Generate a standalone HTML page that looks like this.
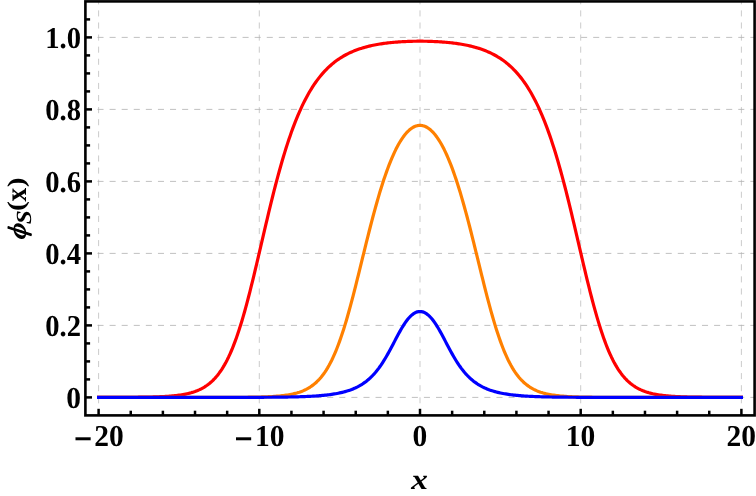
<!DOCTYPE html>
<html><head><meta charset="utf-8"><title>plot</title>
<style>
html,body{margin:0;padding:0;background:#fff;}
body{width:756px;height:496px;overflow:hidden;}
svg{display:block;will-change:transform;}
text{font-family:"Liberation Serif",serif;font-weight:bold;fill:#000;text-rendering:geometricPrecision;}
</style></head><body>
<svg width="756" height="496" viewBox="0 0 756 496">
<rect x="0" y="0" width="756" height="496" fill="#fff"/>
<defs><clipPath id="c"><rect x="85.4" y="1.4" width="669.2" height="414.0"/></clipPath></defs>
<g stroke="#bebebe" stroke-width="0.8" stroke-dasharray="6.045 6.045" fill="none">
<line x1="98.60" y1="415.4" x2="98.60" y2="1.4"/>
<line x1="259.30" y1="415.4" x2="259.30" y2="1.4"/>
<line x1="420.00" y1="415.4" x2="420.00" y2="1.4"/>
<line x1="580.70" y1="415.4" x2="580.70" y2="1.4"/>
<line x1="741.40" y1="415.4" x2="741.40" y2="1.4"/>
<line x1="85.4" y1="397.40" x2="754.6" y2="397.40" stroke="#b0b0b0"/>
<line x1="85.4" y1="325.40" x2="754.6" y2="325.40" stroke="#b0b0b0"/>
<line x1="85.4" y1="253.40" x2="754.6" y2="253.40" stroke="#b0b0b0"/>
<line x1="85.4" y1="181.40" x2="754.6" y2="181.40" stroke="#b0b0b0"/>
<line x1="85.4" y1="109.40" x2="754.6" y2="109.40" stroke="#b0b0b0"/>
<line x1="85.4" y1="37.40" x2="754.6" y2="37.40" stroke="#b0b0b0"/>
</g>
<g clip-path="url(#c)" fill="none" stroke-width="3.2" stroke-linejoin="round" stroke-linecap="square">
<path stroke="#ff0000" d="M98.60,397.38 L99.94,397.38 L101.28,397.38 L102.62,397.38 L103.96,397.38 L105.30,397.38 L106.63,397.38 L107.97,397.37 L109.31,397.37 L110.65,397.37 L111.99,397.37 L113.33,397.36 L114.67,397.36 L116.01,397.36 L117.35,397.35 L118.69,397.35 L120.03,397.34 L121.37,397.34 L122.70,397.33 L124.04,397.33 L125.38,397.32 L126.72,397.31 L128.06,397.31 L129.40,397.30 L130.74,397.29 L132.08,397.28 L133.42,397.27 L134.76,397.26 L136.10,397.24 L137.44,397.23 L138.77,397.22 L140.11,397.20 L141.45,397.18 L142.79,397.16 L144.13,397.14 L145.47,397.12 L146.81,397.10 L148.15,397.07 L149.49,397.04 L150.83,397.01 L152.17,396.98 L153.51,396.94 L154.84,396.90 L156.18,396.86 L157.52,396.81 L158.86,396.76 L160.20,396.71 L161.54,396.65 L162.88,396.58 L164.22,396.51 L165.56,396.43 L166.90,396.35 L168.24,396.26 L169.58,396.16 L170.91,396.06 L172.25,395.94 L173.59,395.81 L174.93,395.68 L176.27,395.53 L177.61,395.37 L178.95,395.19 L180.29,395.01 L181.63,394.80 L182.97,394.58 L184.31,394.34 L185.65,394.07 L186.98,393.79 L188.32,393.48 L189.66,393.15 L191.00,392.79 L192.34,392.39 L193.68,391.97 L195.02,391.51 L196.36,391.01 L197.70,390.48 L199.04,389.90 L200.38,389.27 L201.72,388.59 L203.06,387.86 L204.39,387.06 L205.73,386.21 L207.07,385.29 L208.41,384.30 L209.75,383.23 L211.09,382.08 L212.43,380.84 L213.77,379.51 L215.11,378.09 L216.45,376.56 L217.79,374.92 L219.12,373.16 L220.46,371.29 L221.80,369.29 L223.14,367.15 L224.48,364.88 L225.82,362.46 L227.16,359.90 L228.50,357.18 L229.84,354.30 L231.18,351.27 L232.52,348.06 L233.86,344.69 L235.19,341.15 L236.53,337.44 L237.87,333.56 L239.21,329.51 L240.55,325.29 L241.89,320.91 L243.23,316.38 L244.57,311.69 L245.91,306.85 L247.25,301.87 L248.59,296.77 L249.93,291.55 L251.26,286.21 L252.60,280.78 L253.94,275.27 L255.28,269.68 L256.62,264.03 L257.96,258.34 L259.30,252.61 L260.64,246.86 L261.98,241.11 L263.32,235.36 L264.66,229.63 L266.00,223.93 L267.34,218.27 L268.67,212.67 L270.01,207.12 L271.35,201.65 L272.69,196.26 L274.03,190.96 L275.37,185.75 L276.71,180.64 L278.05,175.64 L279.39,170.75 L280.73,165.97 L282.07,161.31 L283.40,156.77 L284.74,152.35 L286.08,148.05 L287.42,143.88 L288.76,139.82 L290.10,135.90 L291.44,132.09 L292.78,128.41 L294.12,124.85 L295.46,121.41 L296.80,118.08 L298.14,114.87 L299.48,111.78 L300.81,108.79 L302.15,105.91 L303.49,103.14 L304.83,100.47 L306.17,97.90 L307.51,95.43 L308.85,93.06 L310.19,90.77 L311.53,88.58 L312.87,86.47 L314.21,84.44 L315.55,82.50 L316.88,80.63 L318.22,78.84 L319.56,77.12 L320.90,75.47 L322.24,73.89 L323.58,72.38 L324.92,70.92 L326.26,69.53 L327.60,68.20 L328.94,66.92 L330.28,65.70 L331.62,64.52 L332.95,63.40 L334.29,62.33 L335.63,61.30 L336.97,60.31 L338.31,59.37 L339.65,58.47 L340.99,57.61 L342.33,56.78 L343.67,55.99 L345.01,55.24 L346.35,54.52 L347.69,53.83 L349.02,53.17 L350.36,52.54 L351.70,51.93 L353.04,51.36 L354.38,50.81 L355.72,50.28 L357.06,49.78 L358.40,49.30 L359.74,48.84 L361.08,48.40 L362.42,47.98 L363.75,47.59 L365.09,47.21 L366.43,46.84 L367.77,46.50 L369.11,46.17 L370.45,45.85 L371.79,45.55 L373.13,45.27 L374.47,45.00 L375.81,44.74 L377.15,44.49 L378.49,44.26 L379.82,44.04 L381.16,43.82 L382.50,43.62 L383.84,43.43 L385.18,43.25 L386.52,43.08 L387.86,42.92 L389.20,42.77 L390.54,42.63 L391.88,42.49 L393.22,42.36 L394.56,42.24 L395.89,42.13 L397.23,42.03 L398.57,41.93 L399.91,41.84 L401.25,41.75 L402.59,41.68 L403.93,41.61 L405.27,41.54 L406.61,41.48 L407.95,41.43 L409.29,41.38 L410.63,41.34 L411.96,41.30 L413.30,41.27 L414.64,41.25 L415.98,41.23 L417.32,41.22 L418.66,41.21 L420.00,41.21 L421.34,41.21 L422.68,41.22 L424.02,41.23 L425.36,41.25 L426.70,41.27 L428.04,41.30 L429.37,41.34 L430.71,41.38 L432.05,41.43 L433.39,41.48 L434.73,41.54 L436.07,41.61 L437.41,41.68 L438.75,41.75 L440.09,41.84 L441.43,41.93 L442.77,42.03 L444.11,42.13 L445.44,42.24 L446.78,42.36 L448.12,42.49 L449.46,42.63 L450.80,42.77 L452.14,42.92 L453.48,43.08 L454.82,43.25 L456.16,43.43 L457.50,43.62 L458.84,43.82 L460.18,44.04 L461.51,44.26 L462.85,44.49 L464.19,44.74 L465.53,45.00 L466.87,45.27 L468.21,45.55 L469.55,45.85 L470.89,46.17 L472.23,46.50 L473.57,46.84 L474.91,47.21 L476.25,47.59 L477.58,47.98 L478.92,48.40 L480.26,48.84 L481.60,49.30 L482.94,49.78 L484.28,50.28 L485.62,50.81 L486.96,51.36 L488.30,51.93 L489.64,52.54 L490.98,53.17 L492.31,53.83 L493.65,54.52 L494.99,55.24 L496.33,55.99 L497.67,56.78 L499.01,57.61 L500.35,58.47 L501.69,59.37 L503.03,60.31 L504.37,61.30 L505.71,62.33 L507.05,63.40 L508.38,64.52 L509.72,65.70 L511.06,66.92 L512.40,68.20 L513.74,69.53 L515.08,70.92 L516.42,72.38 L517.76,73.89 L519.10,75.47 L520.44,77.12 L521.78,78.84 L523.12,80.63 L524.46,82.50 L525.79,84.44 L527.13,86.47 L528.47,88.58 L529.81,90.77 L531.15,93.06 L532.49,95.43 L533.83,97.90 L535.17,100.47 L536.51,103.14 L537.85,105.91 L539.19,108.79 L540.52,111.78 L541.86,114.87 L543.20,118.08 L544.54,121.41 L545.88,124.85 L547.22,128.41 L548.56,132.09 L549.90,135.90 L551.24,139.82 L552.58,143.88 L553.92,148.05 L555.26,152.35 L556.60,156.77 L557.93,161.31 L559.27,165.97 L560.61,170.75 L561.95,175.64 L563.29,180.64 L564.63,185.75 L565.97,190.96 L567.31,196.26 L568.65,201.65 L569.99,207.12 L571.33,212.67 L572.66,218.27 L574.00,223.93 L575.34,229.63 L576.68,235.36 L578.02,241.11 L579.36,246.86 L580.70,252.61 L582.04,258.34 L583.38,264.03 L584.72,269.68 L586.06,275.27 L587.40,280.78 L588.74,286.21 L590.07,291.55 L591.41,296.77 L592.75,301.87 L594.09,306.85 L595.43,311.69 L596.77,316.38 L598.11,320.91 L599.45,325.29 L600.79,329.51 L602.13,333.56 L603.47,337.44 L604.81,341.15 L606.14,344.69 L607.48,348.06 L608.82,351.27 L610.16,354.30 L611.50,357.18 L612.84,359.90 L614.18,362.46 L615.52,364.88 L616.86,367.15 L618.20,369.29 L619.54,371.29 L620.88,373.16 L622.21,374.92 L623.55,376.56 L624.89,378.09 L626.23,379.51 L627.57,380.84 L628.91,382.08 L630.25,383.23 L631.59,384.30 L632.93,385.29 L634.27,386.21 L635.61,387.06 L636.94,387.86 L638.28,388.59 L639.62,389.27 L640.96,389.90 L642.30,390.48 L643.64,391.01 L644.98,391.51 L646.32,391.97 L647.66,392.39 L649.00,392.79 L650.34,393.15 L651.68,393.48 L653.01,393.79 L654.35,394.07 L655.69,394.34 L657.03,394.58 L658.37,394.80 L659.71,395.01 L661.05,395.19 L662.39,395.37 L663.73,395.53 L665.07,395.68 L666.41,395.81 L667.75,395.94 L669.09,396.06 L670.42,396.16 L671.76,396.26 L673.10,396.35 L674.44,396.43 L675.78,396.51 L677.12,396.58 L678.46,396.65 L679.80,396.71 L681.14,396.76 L682.48,396.81 L683.82,396.86 L685.15,396.90 L686.49,396.94 L687.83,396.98 L689.17,397.01 L690.51,397.04 L691.85,397.07 L693.19,397.10 L694.53,397.12 L695.87,397.14 L697.21,397.16 L698.55,397.18 L699.89,397.20 L701.23,397.22 L702.56,397.23 L703.90,397.24 L705.24,397.26 L706.58,397.27 L707.92,397.28 L709.26,397.29 L710.60,397.30 L711.94,397.31 L713.28,397.31 L714.62,397.32 L715.96,397.33 L717.30,397.33 L718.63,397.34 L719.97,397.34 L721.31,397.35 L722.65,397.35 L723.99,397.36 L725.33,397.36 L726.67,397.36 L728.01,397.37 L729.35,397.37 L730.69,397.37 L732.03,397.37 L733.37,397.38 L734.70,397.38 L736.04,397.38 L737.38,397.38 L738.72,397.38 L740.06,397.38 L741.40,397.38"/>
<path stroke="#ff8000" d="M98.60,397.40 L99.94,397.40 L101.28,397.40 L102.62,397.40 L103.96,397.40 L105.30,397.40 L106.63,397.40 L107.97,397.40 L109.31,397.40 L110.65,397.40 L111.99,397.40 L113.33,397.40 L114.67,397.40 L116.01,397.40 L117.35,397.40 L118.69,397.40 L120.03,397.40 L121.37,397.40 L122.70,397.40 L124.04,397.40 L125.38,397.40 L126.72,397.40 L128.06,397.40 L129.40,397.40 L130.74,397.40 L132.08,397.40 L133.42,397.40 L134.76,397.40 L136.10,397.40 L137.44,397.40 L138.77,397.40 L140.11,397.40 L141.45,397.40 L142.79,397.40 L144.13,397.40 L145.47,397.40 L146.81,397.40 L148.15,397.40 L149.49,397.40 L150.83,397.40 L152.17,397.40 L153.51,397.40 L154.84,397.40 L156.18,397.40 L157.52,397.40 L158.86,397.40 L160.20,397.40 L161.54,397.40 L162.88,397.40 L164.22,397.40 L165.56,397.40 L166.90,397.40 L168.24,397.40 L169.58,397.40 L170.91,397.40 L172.25,397.40 L173.59,397.40 L174.93,397.40 L176.27,397.40 L177.61,397.40 L178.95,397.40 L180.29,397.40 L181.63,397.40 L182.97,397.40 L184.31,397.40 L185.65,397.40 L186.98,397.40 L188.32,397.40 L189.66,397.40 L191.00,397.40 L192.34,397.40 L193.68,397.39 L195.02,397.39 L196.36,397.39 L197.70,397.39 L199.04,397.39 L200.38,397.39 L201.72,397.39 L203.06,397.39 L204.39,397.39 L205.73,397.39 L207.07,397.39 L208.41,397.39 L209.75,397.39 L211.09,397.38 L212.43,397.38 L213.77,397.38 L215.11,397.38 L216.45,397.38 L217.79,397.37 L219.12,397.37 L220.46,397.37 L221.80,397.37 L223.14,397.36 L224.48,397.36 L225.82,397.36 L227.16,397.35 L228.50,397.35 L229.84,397.34 L231.18,397.34 L232.52,397.33 L233.86,397.33 L235.19,397.32 L236.53,397.31 L237.87,397.31 L239.21,397.30 L240.55,397.29 L241.89,397.28 L243.23,397.27 L244.57,397.25 L245.91,397.24 L247.25,397.23 L248.59,397.21 L249.93,397.19 L251.26,397.17 L252.60,397.15 L253.94,397.13 L255.28,397.10 L256.62,397.08 L257.96,397.05 L259.30,397.02 L260.64,396.98 L261.98,396.94 L263.32,396.90 L264.66,396.85 L266.00,396.80 L267.34,396.75 L268.67,396.69 L270.01,396.62 L271.35,396.55 L272.69,396.48 L274.03,396.39 L275.37,396.30 L276.71,396.20 L278.05,396.09 L279.39,395.97 L280.73,395.84 L282.07,395.70 L283.40,395.54 L284.74,395.37 L286.08,395.19 L287.42,394.99 L288.76,394.77 L290.10,394.53 L291.44,394.27 L292.78,393.99 L294.12,393.68 L295.46,393.34 L296.80,392.98 L298.14,392.58 L299.48,392.15 L300.81,391.68 L302.15,391.17 L303.49,390.61 L304.83,390.01 L306.17,389.35 L307.51,388.64 L308.85,387.87 L310.19,387.04 L311.53,386.14 L312.87,385.16 L314.21,384.10 L315.55,382.96 L316.88,381.73 L318.22,380.40 L319.56,378.97 L320.90,377.43 L322.24,375.78 L323.58,374.00 L324.92,372.09 L326.26,370.05 L327.60,367.88 L328.94,365.55 L330.28,363.07 L331.62,360.44 L332.95,357.64 L334.29,354.68 L335.63,351.56 L336.97,348.26 L338.31,344.79 L339.65,341.14 L340.99,337.33 L342.33,333.34 L343.67,329.19 L345.01,324.88 L346.35,320.42 L347.69,315.80 L349.02,311.05 L350.36,306.17 L351.70,301.17 L353.04,296.06 L354.38,290.86 L355.72,285.58 L357.06,280.23 L358.40,274.83 L359.74,269.40 L361.08,263.94 L362.42,258.47 L363.75,253.01 L365.09,247.57 L366.43,242.16 L367.77,236.80 L369.11,231.49 L370.45,226.25 L371.79,221.10 L373.13,216.03 L374.47,211.06 L375.81,206.20 L377.15,201.45 L378.49,196.83 L379.82,192.32 L381.16,187.95 L382.50,183.71 L383.84,179.62 L385.18,175.66 L386.52,171.85 L387.86,168.19 L389.20,164.67 L390.54,161.30 L391.88,158.09 L393.22,155.02 L394.56,152.11 L395.89,149.35 L397.23,146.74 L398.57,144.29 L399.91,141.98 L401.25,139.83 L402.59,137.83 L403.93,135.98 L405.27,134.28 L406.61,132.73 L407.95,131.33 L409.29,130.08 L410.63,128.98 L411.96,128.02 L413.30,127.22 L414.64,126.56 L415.98,126.04 L417.32,125.68 L418.66,125.46 L420.00,125.39 L421.34,125.46 L422.68,125.68 L424.02,126.04 L425.36,126.56 L426.70,127.22 L428.04,128.02 L429.37,128.98 L430.71,130.08 L432.05,131.33 L433.39,132.73 L434.73,134.28 L436.07,135.98 L437.41,137.83 L438.75,139.83 L440.09,141.98 L441.43,144.29 L442.77,146.74 L444.11,149.35 L445.44,152.11 L446.78,155.02 L448.12,158.09 L449.46,161.30 L450.80,164.67 L452.14,168.19 L453.48,171.85 L454.82,175.66 L456.16,179.62 L457.50,183.71 L458.84,187.95 L460.18,192.32 L461.51,196.83 L462.85,201.45 L464.19,206.20 L465.53,211.06 L466.87,216.03 L468.21,221.10 L469.55,226.25 L470.89,231.49 L472.23,236.80 L473.57,242.16 L474.91,247.57 L476.25,253.01 L477.58,258.47 L478.92,263.94 L480.26,269.40 L481.60,274.83 L482.94,280.23 L484.28,285.58 L485.62,290.86 L486.96,296.06 L488.30,301.17 L489.64,306.17 L490.98,311.05 L492.31,315.80 L493.65,320.42 L494.99,324.88 L496.33,329.19 L497.67,333.34 L499.01,337.33 L500.35,341.14 L501.69,344.79 L503.03,348.26 L504.37,351.56 L505.71,354.68 L507.05,357.64 L508.38,360.44 L509.72,363.07 L511.06,365.55 L512.40,367.88 L513.74,370.05 L515.08,372.09 L516.42,374.00 L517.76,375.78 L519.10,377.43 L520.44,378.97 L521.78,380.40 L523.12,381.73 L524.46,382.96 L525.79,384.10 L527.13,385.16 L528.47,386.14 L529.81,387.04 L531.15,387.87 L532.49,388.64 L533.83,389.35 L535.17,390.01 L536.51,390.61 L537.85,391.17 L539.19,391.68 L540.52,392.15 L541.86,392.58 L543.20,392.98 L544.54,393.34 L545.88,393.68 L547.22,393.99 L548.56,394.27 L549.90,394.53 L551.24,394.77 L552.58,394.99 L553.92,395.19 L555.26,395.37 L556.60,395.54 L557.93,395.70 L559.27,395.84 L560.61,395.97 L561.95,396.09 L563.29,396.20 L564.63,396.30 L565.97,396.39 L567.31,396.48 L568.65,396.55 L569.99,396.62 L571.33,396.69 L572.66,396.75 L574.00,396.80 L575.34,396.85 L576.68,396.90 L578.02,396.94 L579.36,396.98 L580.70,397.02 L582.04,397.05 L583.38,397.08 L584.72,397.10 L586.06,397.13 L587.40,397.15 L588.74,397.17 L590.07,397.19 L591.41,397.21 L592.75,397.23 L594.09,397.24 L595.43,397.25 L596.77,397.27 L598.11,397.28 L599.45,397.29 L600.79,397.30 L602.13,397.31 L603.47,397.31 L604.81,397.32 L606.14,397.33 L607.48,397.33 L608.82,397.34 L610.16,397.34 L611.50,397.35 L612.84,397.35 L614.18,397.36 L615.52,397.36 L616.86,397.36 L618.20,397.37 L619.54,397.37 L620.88,397.37 L622.21,397.37 L623.55,397.38 L624.89,397.38 L626.23,397.38 L627.57,397.38 L628.91,397.38 L630.25,397.39 L631.59,397.39 L632.93,397.39 L634.27,397.39 L635.61,397.39 L636.94,397.39 L638.28,397.39 L639.62,397.39 L640.96,397.39 L642.30,397.39 L643.64,397.39 L644.98,397.39 L646.32,397.39 L647.66,397.40 L649.00,397.40 L650.34,397.40 L651.68,397.40 L653.01,397.40 L654.35,397.40 L655.69,397.40 L657.03,397.40 L658.37,397.40 L659.71,397.40 L661.05,397.40 L662.39,397.40 L663.73,397.40 L665.07,397.40 L666.41,397.40 L667.75,397.40 L669.09,397.40 L670.42,397.40 L671.76,397.40 L673.10,397.40 L674.44,397.40 L675.78,397.40 L677.12,397.40 L678.46,397.40 L679.80,397.40 L681.14,397.40 L682.48,397.40 L683.82,397.40 L685.15,397.40 L686.49,397.40 L687.83,397.40 L689.17,397.40 L690.51,397.40 L691.85,397.40 L693.19,397.40 L694.53,397.40 L695.87,397.40 L697.21,397.40 L698.55,397.40 L699.89,397.40 L701.23,397.40 L702.56,397.40 L703.90,397.40 L705.24,397.40 L706.58,397.40 L707.92,397.40 L709.26,397.40 L710.60,397.40 L711.94,397.40 L713.28,397.40 L714.62,397.40 L715.96,397.40 L717.30,397.40 L718.63,397.40 L719.97,397.40 L721.31,397.40 L722.65,397.40 L723.99,397.40 L725.33,397.40 L726.67,397.40 L728.01,397.40 L729.35,397.40 L730.69,397.40 L732.03,397.40 L733.37,397.40 L734.70,397.40 L736.04,397.40 L737.38,397.40 L738.72,397.40 L740.06,397.40 L741.40,397.40"/>
<path stroke="#0000ff" d="M98.60,397.40 L99.94,397.40 L101.28,397.40 L102.62,397.40 L103.96,397.40 L105.30,397.40 L106.63,397.40 L107.97,397.40 L109.31,397.40 L110.65,397.40 L111.99,397.40 L113.33,397.40 L114.67,397.40 L116.01,397.40 L117.35,397.40 L118.69,397.40 L120.03,397.40 L121.37,397.40 L122.70,397.40 L124.04,397.40 L125.38,397.40 L126.72,397.40 L128.06,397.40 L129.40,397.40 L130.74,397.40 L132.08,397.40 L133.42,397.40 L134.76,397.40 L136.10,397.40 L137.44,397.40 L138.77,397.40 L140.11,397.40 L141.45,397.40 L142.79,397.40 L144.13,397.40 L145.47,397.40 L146.81,397.40 L148.15,397.40 L149.49,397.40 L150.83,397.40 L152.17,397.40 L153.51,397.40 L154.84,397.40 L156.18,397.40 L157.52,397.40 L158.86,397.40 L160.20,397.40 L161.54,397.40 L162.88,397.40 L164.22,397.40 L165.56,397.40 L166.90,397.40 L168.24,397.40 L169.58,397.40 L170.91,397.40 L172.25,397.40 L173.59,397.40 L174.93,397.40 L176.27,397.40 L177.61,397.40 L178.95,397.40 L180.29,397.40 L181.63,397.40 L182.97,397.40 L184.31,397.40 L185.65,397.40 L186.98,397.40 L188.32,397.40 L189.66,397.40 L191.00,397.40 L192.34,397.40 L193.68,397.40 L195.02,397.40 L196.36,397.40 L197.70,397.39 L199.04,397.39 L200.38,397.39 L201.72,397.39 L203.06,397.39 L204.39,397.39 L205.73,397.39 L207.07,397.39 L208.41,397.39 L209.75,397.39 L211.09,397.39 L212.43,397.39 L213.77,397.39 L215.11,397.39 L216.45,397.39 L217.79,397.39 L219.12,397.39 L220.46,397.38 L221.80,397.38 L223.14,397.38 L224.48,397.38 L225.82,397.38 L227.16,397.38 L228.50,397.38 L229.84,397.38 L231.18,397.37 L232.52,397.37 L233.86,397.37 L235.19,397.37 L236.53,397.37 L237.87,397.36 L239.21,397.36 L240.55,397.36 L241.89,397.36 L243.23,397.35 L244.57,397.35 L245.91,397.35 L247.25,397.35 L248.59,397.34 L249.93,397.34 L251.26,397.33 L252.60,397.33 L253.94,397.32 L255.28,397.32 L256.62,397.31 L257.96,397.31 L259.30,397.30 L260.64,397.30 L261.98,397.29 L263.32,397.28 L264.66,397.27 L266.00,397.27 L267.34,397.26 L268.67,397.25 L270.01,397.24 L271.35,397.23 L272.69,397.22 L274.03,397.20 L275.37,397.19 L276.71,397.18 L278.05,397.16 L279.39,397.15 L280.73,397.13 L282.07,397.11 L283.40,397.10 L284.74,397.08 L286.08,397.05 L287.42,397.03 L288.76,397.01 L290.10,396.98 L291.44,396.95 L292.78,396.92 L294.12,396.89 L295.46,396.86 L296.80,396.82 L298.14,396.79 L299.48,396.75 L300.81,396.70 L302.15,396.66 L303.49,396.61 L304.83,396.56 L306.17,396.50 L307.51,396.44 L308.85,396.38 L310.19,396.31 L311.53,396.24 L312.87,396.16 L314.21,396.08 L315.55,395.99 L316.88,395.90 L318.22,395.80 L319.56,395.70 L320.90,395.58 L322.24,395.46 L323.58,395.34 L324.92,395.20 L326.26,395.05 L327.60,394.90 L328.94,394.73 L330.28,394.56 L331.62,394.37 L332.95,394.17 L334.29,393.95 L335.63,393.73 L336.97,393.48 L338.31,393.22 L339.65,392.94 L340.99,392.65 L342.33,392.33 L343.67,391.99 L345.01,391.63 L346.35,391.25 L347.69,390.84 L349.02,390.40 L350.36,389.94 L351.70,389.44 L353.04,388.90 L354.38,388.34 L355.72,387.73 L357.06,387.08 L358.40,386.39 L359.74,385.65 L361.08,384.87 L362.42,384.03 L363.75,383.13 L365.09,382.18 L366.43,381.16 L367.77,380.08 L369.11,378.93 L370.45,377.70 L371.79,376.40 L373.13,375.01 L374.47,373.55 L375.81,371.99 L377.15,370.34 L378.49,368.61 L379.82,366.77 L381.16,364.85 L382.50,362.83 L383.84,360.72 L385.18,358.53 L386.52,356.25 L387.86,353.89 L389.20,351.47 L390.54,349.00 L391.88,346.48 L393.22,343.93 L394.56,341.37 L395.89,338.82 L397.23,336.30 L398.57,333.81 L399.91,331.39 L401.25,329.05 L402.59,326.80 L403.93,324.66 L405.27,322.66 L406.61,320.79 L407.95,319.07 L409.29,317.51 L410.63,316.13 L411.96,314.91 L413.30,313.88 L414.64,313.02 L415.98,312.36 L417.32,311.88 L418.66,311.60 L420.00,311.50 L421.34,311.60 L422.68,311.88 L424.02,312.36 L425.36,313.02 L426.70,313.88 L428.04,314.91 L429.37,316.13 L430.71,317.51 L432.05,319.07 L433.39,320.79 L434.73,322.66 L436.07,324.66 L437.41,326.80 L438.75,329.05 L440.09,331.39 L441.43,333.81 L442.77,336.30 L444.11,338.82 L445.44,341.37 L446.78,343.93 L448.12,346.48 L449.46,349.00 L450.80,351.47 L452.14,353.89 L453.48,356.25 L454.82,358.53 L456.16,360.72 L457.50,362.83 L458.84,364.85 L460.18,366.77 L461.51,368.61 L462.85,370.34 L464.19,371.99 L465.53,373.55 L466.87,375.01 L468.21,376.40 L469.55,377.70 L470.89,378.93 L472.23,380.08 L473.57,381.16 L474.91,382.18 L476.25,383.13 L477.58,384.03 L478.92,384.87 L480.26,385.65 L481.60,386.39 L482.94,387.08 L484.28,387.73 L485.62,388.34 L486.96,388.90 L488.30,389.44 L489.64,389.94 L490.98,390.40 L492.31,390.84 L493.65,391.25 L494.99,391.63 L496.33,391.99 L497.67,392.33 L499.01,392.65 L500.35,392.94 L501.69,393.22 L503.03,393.48 L504.37,393.73 L505.71,393.95 L507.05,394.17 L508.38,394.37 L509.72,394.56 L511.06,394.73 L512.40,394.90 L513.74,395.05 L515.08,395.20 L516.42,395.34 L517.76,395.46 L519.10,395.58 L520.44,395.70 L521.78,395.80 L523.12,395.90 L524.46,395.99 L525.79,396.08 L527.13,396.16 L528.47,396.24 L529.81,396.31 L531.15,396.38 L532.49,396.44 L533.83,396.50 L535.17,396.56 L536.51,396.61 L537.85,396.66 L539.19,396.70 L540.52,396.75 L541.86,396.79 L543.20,396.82 L544.54,396.86 L545.88,396.89 L547.22,396.92 L548.56,396.95 L549.90,396.98 L551.24,397.01 L552.58,397.03 L553.92,397.05 L555.26,397.08 L556.60,397.10 L557.93,397.11 L559.27,397.13 L560.61,397.15 L561.95,397.16 L563.29,397.18 L564.63,397.19 L565.97,397.20 L567.31,397.22 L568.65,397.23 L569.99,397.24 L571.33,397.25 L572.66,397.26 L574.00,397.27 L575.34,397.27 L576.68,397.28 L578.02,397.29 L579.36,397.30 L580.70,397.30 L582.04,397.31 L583.38,397.31 L584.72,397.32 L586.06,397.32 L587.40,397.33 L588.74,397.33 L590.07,397.34 L591.41,397.34 L592.75,397.35 L594.09,397.35 L595.43,397.35 L596.77,397.35 L598.11,397.36 L599.45,397.36 L600.79,397.36 L602.13,397.36 L603.47,397.37 L604.81,397.37 L606.14,397.37 L607.48,397.37 L608.82,397.37 L610.16,397.38 L611.50,397.38 L612.84,397.38 L614.18,397.38 L615.52,397.38 L616.86,397.38 L618.20,397.38 L619.54,397.38 L620.88,397.39 L622.21,397.39 L623.55,397.39 L624.89,397.39 L626.23,397.39 L627.57,397.39 L628.91,397.39 L630.25,397.39 L631.59,397.39 L632.93,397.39 L634.27,397.39 L635.61,397.39 L636.94,397.39 L638.28,397.39 L639.62,397.39 L640.96,397.39 L642.30,397.39 L643.64,397.40 L644.98,397.40 L646.32,397.40 L647.66,397.40 L649.00,397.40 L650.34,397.40 L651.68,397.40 L653.01,397.40 L654.35,397.40 L655.69,397.40 L657.03,397.40 L658.37,397.40 L659.71,397.40 L661.05,397.40 L662.39,397.40 L663.73,397.40 L665.07,397.40 L666.41,397.40 L667.75,397.40 L669.09,397.40 L670.42,397.40 L671.76,397.40 L673.10,397.40 L674.44,397.40 L675.78,397.40 L677.12,397.40 L678.46,397.40 L679.80,397.40 L681.14,397.40 L682.48,397.40 L683.82,397.40 L685.15,397.40 L686.49,397.40 L687.83,397.40 L689.17,397.40 L690.51,397.40 L691.85,397.40 L693.19,397.40 L694.53,397.40 L695.87,397.40 L697.21,397.40 L698.55,397.40 L699.89,397.40 L701.23,397.40 L702.56,397.40 L703.90,397.40 L705.24,397.40 L706.58,397.40 L707.92,397.40 L709.26,397.40 L710.60,397.40 L711.94,397.40 L713.28,397.40 L714.62,397.40 L715.96,397.40 L717.30,397.40 L718.63,397.40 L719.97,397.40 L721.31,397.40 L722.65,397.40 L723.99,397.40 L725.33,397.40 L726.67,397.40 L728.01,397.40 L729.35,397.40 L730.69,397.40 L732.03,397.40 L733.37,397.40 L734.70,397.40 L736.04,397.40 L737.38,397.40 L738.72,397.40 L740.06,397.40 L741.40,397.40"/>
</g>
<g stroke="#000" stroke-width="2.5" fill="none">
<line x1="98.60" y1="415.4" x2="98.60" y2="408.80"/>
<line x1="130.74" y1="415.4" x2="130.74" y2="410.70"/>
<line x1="162.88" y1="415.4" x2="162.88" y2="410.70"/>
<line x1="195.02" y1="415.4" x2="195.02" y2="410.70"/>
<line x1="227.16" y1="415.4" x2="227.16" y2="410.70"/>
<line x1="259.30" y1="415.4" x2="259.30" y2="408.80"/>
<line x1="291.44" y1="415.4" x2="291.44" y2="410.70"/>
<line x1="323.58" y1="415.4" x2="323.58" y2="410.70"/>
<line x1="355.72" y1="415.4" x2="355.72" y2="410.70"/>
<line x1="387.86" y1="415.4" x2="387.86" y2="410.70"/>
<line x1="420.00" y1="415.4" x2="420.00" y2="408.80"/>
<line x1="452.14" y1="415.4" x2="452.14" y2="410.70"/>
<line x1="484.28" y1="415.4" x2="484.28" y2="410.70"/>
<line x1="516.42" y1="415.4" x2="516.42" y2="410.70"/>
<line x1="548.56" y1="415.4" x2="548.56" y2="410.70"/>
<line x1="580.70" y1="415.4" x2="580.70" y2="408.80"/>
<line x1="612.84" y1="415.4" x2="612.84" y2="410.70"/>
<line x1="644.98" y1="415.4" x2="644.98" y2="410.70"/>
<line x1="677.12" y1="415.4" x2="677.12" y2="410.70"/>
<line x1="709.26" y1="415.4" x2="709.26" y2="410.70"/>
<line x1="741.40" y1="415.4" x2="741.40" y2="408.80"/>
<line x1="85.4" y1="397.40" x2="92.00" y2="397.40"/>
<line x1="85.4" y1="379.40" x2="90.10" y2="379.40"/>
<line x1="85.4" y1="361.40" x2="90.10" y2="361.40"/>
<line x1="85.4" y1="343.40" x2="90.10" y2="343.40"/>
<line x1="85.4" y1="325.40" x2="92.00" y2="325.40"/>
<line x1="85.4" y1="307.40" x2="90.10" y2="307.40"/>
<line x1="85.4" y1="289.40" x2="90.10" y2="289.40"/>
<line x1="85.4" y1="271.40" x2="90.10" y2="271.40"/>
<line x1="85.4" y1="253.40" x2="92.00" y2="253.40"/>
<line x1="85.4" y1="235.40" x2="90.10" y2="235.40"/>
<line x1="85.4" y1="217.40" x2="90.10" y2="217.40"/>
<line x1="85.4" y1="199.40" x2="90.10" y2="199.40"/>
<line x1="85.4" y1="181.40" x2="92.00" y2="181.40"/>
<line x1="85.4" y1="163.40" x2="90.10" y2="163.40"/>
<line x1="85.4" y1="145.40" x2="90.10" y2="145.40"/>
<line x1="85.4" y1="127.40" x2="90.10" y2="127.40"/>
<line x1="85.4" y1="109.40" x2="92.00" y2="109.40"/>
<line x1="85.4" y1="91.40" x2="90.10" y2="91.40"/>
<line x1="85.4" y1="73.40" x2="90.10" y2="73.40"/>
<line x1="85.4" y1="55.40" x2="90.10" y2="55.40"/>
<line x1="85.4" y1="37.40" x2="92.00" y2="37.40"/>
<line x1="85.4" y1="19.40" x2="90.10" y2="19.40"/>
</g>
<rect x="85.4" y="1.4" width="669.2" height="414.0" fill="none" stroke="#000" stroke-width="2.6"/>
<g font-size="29.5">
<text transform="translate(81.00,407.70) scale(1,1.03)" text-anchor="end">0</text>
<text transform="translate(81.00,335.70) scale(0.97,1.03)" text-anchor="end">0.2</text>
<text transform="translate(81.00,263.70) scale(0.97,1.03)" text-anchor="end">0.4</text>
<text transform="translate(81.00,191.70) scale(0.97,1.03)" text-anchor="end">0.6</text>
<text transform="translate(81.00,119.70) scale(0.97,1.03)" text-anchor="end">0.8</text>
<text transform="translate(81.00,47.70) scale(0.97,1.03)" text-anchor="end">1.0</text>
<text transform="translate(109.00,445.80) scale(1,1.03)" text-anchor="middle">20</text>
<text transform="translate(73.67,452.73) scale(1.108,1.453)" text-anchor="start">−</text>
<text transform="translate(269.70,445.80) scale(1,1.03)" text-anchor="middle">10</text>
<text transform="translate(234.37,452.73) scale(1.108,1.453)" text-anchor="start">−</text>
<text transform="translate(419.80,445.80) scale(1,1.03)" text-anchor="middle">0</text>
<text transform="translate(580.50,445.80) scale(1,1.03)" text-anchor="middle">10</text>
<text transform="translate(741.20,445.80) scale(1,1.03)" text-anchor="middle">20</text>
<text transform="translate(419.6,488.8) scale(1.13,0.98)" text-anchor="middle" font-style="italic">x</text>
<g transform="translate(25.8,240.0) rotate(-90)">
<text transform="translate(0.0,0.0) skewX(-7) scale(0.98,0.9)" font-size="29.5" text-anchor="start" font-style="italic">ϕ</text>
<text transform="translate(15.8,4.7) scale(1.2,1.03)" font-size="20.95" text-anchor="start" font-style="italic">S</text>
<text transform="translate(29.0,-1.4) scale(1.0,0.82)" font-size="29.5" text-anchor="start">(</text>
<text transform="translate(45.35,0.0) scale(0.93,1.0)" font-size="29.5" text-anchor="middle">x</text>
<text transform="translate(52.8,-1.4) scale(1.0,0.82)" font-size="29.5" text-anchor="start">)</text>
<line transform="translate(0.0,0.0) skewX(-7) scale(0.98,0.9)" x1="5.93" y1="6.28" x2="10.68" y2="-20.18" stroke="#000" stroke-width="2.7"/>
</g>
</g>
</svg>
</body></html>
